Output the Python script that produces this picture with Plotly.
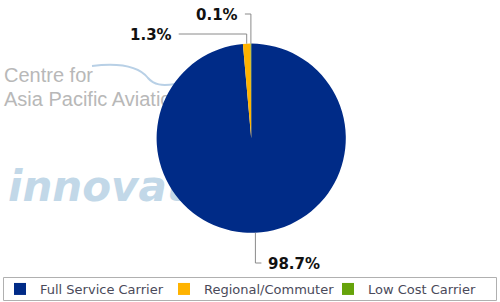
import math
import plotly.graph_objects as go

categories = ["Full Service Carrier", "Regional/Commuter", "Low Cost Carrier"]
values = [98.7, 1.3, 0.1]
colors = ["#002b87", "#ffb300", "#66a30a"]
label_texts = ["98.7%", "1.3%", "0.1%"]

W, H = 500, 302
CX, CY, R = 251.2, 138.2, 94.6

fig = go.Figure()

# hidden pixel-space axes for watermark text (drawn below the pie)
fig.add_trace(go.Scatter(
    x=[4, 4], y=[77, 101], mode="text", text=["Centre for", "Asia Pacific Aviation"],
    textposition="middle right", hoverinfo="skip", showlegend=False,
    textfont=dict(family="Liberation Sans, Arial", size=20, color="#b8b8b8")))
fig.add_trace(go.Scatter(
    x=[8], y=[190], mode="text", text=["innovata"],
    textposition="middle right", hoverinfo="skip", showlegend=False,
    textfont=dict(family="DejaVu Sans", size=42, color="#c2d8e8", weight="bold", style="italic")))

fig.add_trace(go.Pie(
    labels=categories, values=values, sort=False, direction="clockwise", rotation=0,
    marker=dict(colors=colors, line=dict(width=0)), textinfo="none", textposition="inside",
    domain=dict(x=[(CX - R) / W, (CX + R) / W], y=[1 - (CY + R) / H, 1 - (CY - R) / H]),
    hoverinfo="label+percent"))

# leader lines computed from slice angles
total = sum(values)
cum = 0
shapes = []
annotations = []
label_cfg = [  # (elbow y, horizontal end dx, side)
    (263, 6, "right"),
    (34, -68, "left"),
    (14, -6, "left"),
]
for v, txt, (ey, dx, side) in zip(values, label_texts, label_cfg):
    mid = (cum + v / 2) / total * 2 * math.pi
    cum += v
    px = CX + R * math.sin(mid)
    py = CY - R * math.cos(mid)
    path = f"M {px:.1f},{py:.1f} L {px:.1f},{ey} L {px + dx:.1f},{ey}"
    shapes.append(dict(type="path", path=path, xref="x", yref="y",
                       line=dict(color="#8a8a8a", width=1), layer="above"))
    if side == "right":
        annotations.append(dict(x=px + dx + 5, y=ey + 1, xref="x", yref="y", text=f"<b>{txt}</b>",
                                showarrow=False, xanchor="left", yanchor="middle",
                                font=dict(family="DejaVu Sans", size=15, color="#111")))
    else:
        annotations.append(dict(x=px + dx - 5, y=ey + 1, xref="x", yref="y", text=f"<b>{txt}</b>",
                                showarrow=False, xanchor="right", yanchor="middle",
                                font=dict(family="DejaVu Sans", size=15, color="#111")))

# watermark swoosh
shapes.append(dict(type="path", xref="x", yref="y", layer="below",
                   path="M 92,66 C 125,62 140,68 148,78 C 154,85 162,86 175,84",
                   line=dict(color="#b8d0e6", width=2)))
# legend border
shapes.append(dict(type="rect", xref="x", yref="y", x0=3.5, x1=496.5, y0=277.5, y1=300.5,
                   line=dict(color="#b0b0b0", width=1), layer="below"))

fig.update_layout(
    width=W, height=H, margin=dict(l=0, r=0, t=0, b=0, autoexpand=False),
    paper_bgcolor="white", plot_bgcolor="rgba(0,0,0,0)",
    xaxis=dict(range=[0, W], visible=False, domain=[0, 1], fixedrange=True),
    yaxis=dict(range=[H, 0], visible=False, domain=[0, 1], fixedrange=True),
    shapes=shapes, annotations=annotations,
    showlegend=True,
    legend=dict(orientation="h", x=0.0, y=1 - 289 / H, xanchor="left", yanchor="middle",
                entrywidth=119, entrywidthmode="pixels", bgcolor="rgba(0,0,0,0)",
                font=dict(family="DejaVu Sans", size=13, color="#4a4a5a"),
                itemclick=False, itemdoubleclick=False),
)

fig.write_html("out.html")
